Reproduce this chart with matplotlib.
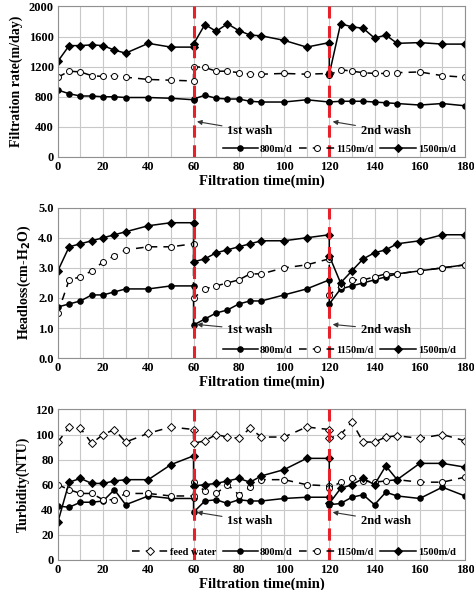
import matplotlib
matplotlib.use("Agg")
import matplotlib.pyplot as plt
from matplotlib.ticker import MultipleLocator, FormatStrFormatter

plt.rcParams['font.family'] = ['Liberation Serif', 'DejaVu Serif']
plt.rcParams['font.weight'] = 'bold'

# time axis: the wash points (60, 120) appear twice (before / after wash)
t = [0, 5, 10, 15, 20, 25, 30, 40, 50, 60,
     60, 65, 70, 75, 80, 85, 90, 100, 110, 120,
     120, 125, 130, 135, 140, 145, 150, 160, 170, 180]

# filtration rate (m/day)
rate_800 = [890, 840, 810, 810, 800, 800, 790, 790, 780, 760,
            770, 820, 780, 770, 770, 740, 730, 730, 760, 730,
            730, 740, 740, 740, 730, 720, 710, 690, 710, 680]
rate_1150 = [1060, 1140, 1130, 1080, 1070, 1080, 1060, 1030, 1020, 1010,
             1200, 1190, 1140, 1140, 1120, 1100, 1100, 1110, 1100, 1110,
             1090, 1160, 1140, 1120, 1110, 1110, 1120, 1130, 1080, 1060]
rate_1500 = [1270, 1480, 1480, 1490, 1480, 1420, 1380, 1510, 1460, 1460,
             1500, 1760, 1670, 1770, 1680, 1620, 1610, 1550, 1460, 1520,
             1100, 1770, 1730, 1710, 1580, 1620, 1510, 1520, 1500, 1500]

# headloss (cm-H2O)
head_800 = [1.7, 1.8, 1.9, 2.1, 2.1, 2.2, 2.3, 2.3, 2.4, 2.4,
            1.1, 1.3, 1.5, 1.6, 1.8, 1.9, 1.9, 2.1, 2.3, 2.6,
            1.8, 2.3, 2.4, 2.5, 2.6, 2.7, 2.8, 2.9, 3.0, 3.1]
head_1150 = [1.5, 2.6, 2.7, 2.9, 3.2, 3.4, 3.6, 3.7, 3.7, 3.8,
             2.0, 2.3, 2.4, 2.5, 2.6, 2.8, 2.8, 3.0, 3.1, 3.3,
             2.1, 2.4, 2.6, 2.6, 2.7, 2.8, 2.8, 2.9, 3.0, 3.1]
head_1500 = [2.9, 3.7, 3.8, 3.9, 4.0, 4.1, 4.2, 4.4, 4.5, 4.5,
             3.2, 3.3, 3.5, 3.6, 3.7, 3.8, 3.9, 3.9, 4.0, 4.1,
             3.4, 2.5, 2.9, 3.3, 3.5, 3.6, 3.8, 3.9, 4.1, 4.1]

# turbidity (NTU)
turb_feed = [94, 106, 105, 93, 100, 104, 94, 101, 106, 104,
             93, 95, 100, 98, 97, 105, 98, 98, 106, 104,
             97, 100, 110, 94, 94, 98, 99, 97, 100, 95]
turb_800 = [43, 42, 46, 46, 47, 56, 44, 51, 49, 49,
            38, 47, 48, 45, 48, 47, 47, 49, 50, 50,
            44, 45, 50, 52, 44, 54, 51, 49, 58, 51]
turb_1150 = [60, 56, 53, 53, 48, 48, 53, 53, 51, 51,
             62, 55, 53, 60, 52, 58, 64, 64, 60, 59,
             57, 62, 65, 63, 62, 63, 64, 62, 62, 66]
turb_1500 = [30, 62, 65, 61, 61, 63, 64, 64, 76, 83,
             59, 60, 61, 63, 65, 62, 67, 72, 81, 81,
             45, 57, 60, 65, 60, 75, 64, 77, 77, 74]

washes = [60, 120]

fig = plt.figure(figsize=(4.74, 5.90), dpi=100)
L, W, H = 0.122, 0.859, 0.255
ax1 = fig.add_axes([L, 0.734, W, H])
ax2 = fig.add_axes([L, 0.393, W, H])
ax3 = fig.add_axes([L, 0.051, W, H])

solid = dict(color='black', lw=1.1, markersize=4, markeredgewidth=0.7)
dash = dict(color='black', lw=1.1, markersize=4.3, markeredgewidth=0.7,
            linestyle=(0, (5, 4)), markerfacecolor='white')


def setup(ax, ymax, ystep, fmt, ylabel):
    ax.set_xlim(0, 180)
    ax.set_ylim(0, ymax)
    ax.xaxis.set_major_locator(MultipleLocator(20))
    ax.xaxis.set_minor_locator(MultipleLocator(10))
    ax.yaxis.set_major_locator(MultipleLocator(ystep))
    ax.yaxis.set_major_formatter(FormatStrFormatter(fmt))
    ax.grid(which='both', axis='x', color='#c8c8c8', lw=0.8)
    ax.grid(which='major', axis='y', color='#c8c8c8', lw=0.8)
    ax.tick_params(which='both', length=0, labelsize=9, pad=3)
    for s in ax.spines.values():
        s.set_color('#909090')
    for lab in ax.get_xticklabels() + ax.get_yticklabels():
        lab.set_fontweight('bold')
    ax.set_xlabel('Filtration time(min)', fontsize=10.5, fontweight='bold', labelpad=1)
    ax.set_ylabel(ylabel, fontsize=10, fontweight='bold', labelpad=4)
    for w in washes:
        ax.axvline(w, color='#e8202a', lw=2.2, linestyle=(0, (4, 2.5)), zorder=5)


def washes_text(ax, y_head, y_text):
    for w, name, tx in [(60, '1st wash', 75), (120, '2nd wash', 134)]:
        ax.annotate(name, xy=(w + 1.5, y_head), xytext=(tx, y_text),
                    fontsize=9, fontweight='bold', ha='left', va='center',
                    arrowprops=dict(arrowstyle='-|>', color='#333333', lw=0.8,
                                    mutation_scale=7, shrinkA=2, shrinkB=0))


def legend(ax):
    ax.legend(loc='lower right', bbox_to_anchor=(1.0, -0.04), ncol=4, frameon=False,
              handlelength=3.4, handletextpad=0.2, columnspacing=0.6,
              prop={'family': 'Liberation Serif', 'weight': 'bold', 'size': 7.5})


# panel 1
ax1.plot(t, rate_800, marker='o', label='800m/d', **solid)
ax1.plot(t, rate_1150, marker='o', label='1150m/d', **dash)
ax1.plot(t, rate_1500, marker='D', label='1500m/d', **solid)
setup(ax1, 2000, 400, '%d', 'Filtration rate(m/day)')
washes_text(ax1, 470, 350)
legend(ax1)

# panel 2
ax2.plot(t, head_800, marker='o', label='800m/d', **solid)
ax2.plot(t, head_1150, marker='o', label='1150m/d', **dash)
ax2.plot(t, head_1500, marker='D', label='1500m/d', **solid)
setup(ax2, 5, 1, '%.1f', 'Headloss(cm-H$_\\mathbf{2}$O)')
washes_text(ax2, 1.12, 0.95)
legend(ax2)

# panel 3
ax3.plot(t, turb_feed, marker='D', label='feed water', **dash)
ax3.plot(t, turb_800, marker='o', label='800m/d', **solid)
ax3.plot(t, turb_1150, marker='o', label='1150m/d', **dash)
ax3.plot(t, turb_1500, marker='D', label='1500m/d', **solid)
setup(ax3, 120, 20, '%d', 'Turbidity(NTU)')
washes_text(ax3, 38, 31)
legend(ax3)

fig.savefig('out.png', dpi=100)
